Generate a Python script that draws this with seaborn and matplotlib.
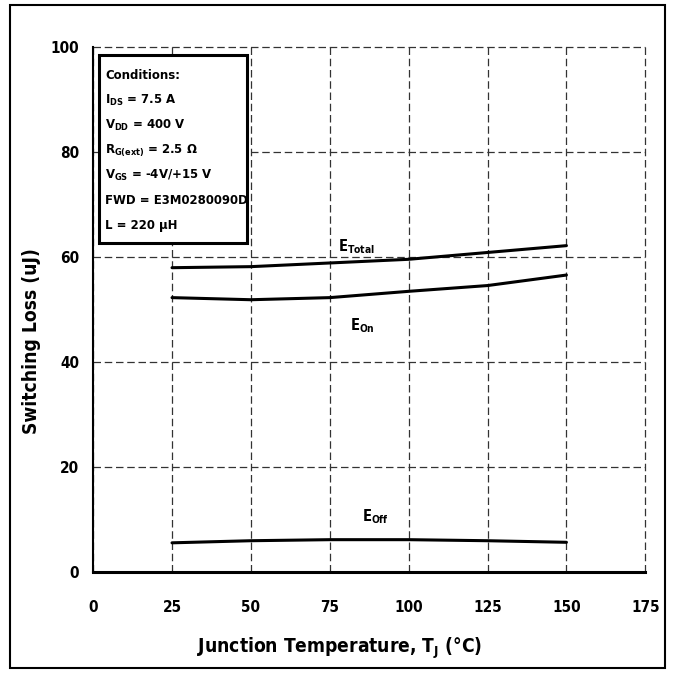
import matplotlib
matplotlib.use("Agg")
import matplotlib.pyplot as plt
from matplotlib import font_manager as fm
import seaborn as sns
import pandas as pd
from matplotlib.patches import Rectangle

temps = [25, 50, 75, 100, 125, 150]
e_total = [58.0, 58.2, 58.9, 59.6, 60.9, 62.2]
e_on = [52.3, 51.9, 52.3, 53.5, 54.6, 56.6]
e_off = [5.6, 6.0, 6.2, 6.2, 6.0, 5.7]
x_ticks = [0, 25, 50, 75, 100, 125, 150, 175]
y_ticks = [0, 20, 40, 60, 80, 100]
conditions = ["Conditions:",
              r"I$_{DS}$ = 7.5 A",
              r"V$_{DD}$ = 400 V",
              r"R$_{G(ext)}$ = 2.5 Ω",
              r"V$_{GS}$ = -4V/+15 V",
              "FWD = E3M0280090D",
              "L = 220 µH"]

sns.set_theme(style="white")

names = {f.name for f in fm.fontManager.ttflist}
cond_dejavu = any(f.name == "DejaVu Sans" and str(f.stretch) in ("condensed", "semi-condensed")
                  for f in fm.fontManager.ttflist)
if "Liberation Sans Narrow" in names:
    MAIN = "Liberation Sans Narrow"
    STRETCH = "normal"
elif cond_dejavu:
    MAIN = "DejaVu Sans"
    STRETCH = "condensed"
else:
    MAIN = "Liberation Sans"
    STRETCH = "normal"

plt.rcParams["font.family"] = [MAIN, "DejaVu Sans"]
plt.rcParams["font.stretch"] = STRETCH
plt.rcParams["font.weight"] = "bold"
plt.rcParams["mathtext.fontset"] = "custom"
plt.rcParams["mathtext.rm"] = MAIN + ":bold"
plt.rcParams["mathtext.it"] = MAIN + ":bold"
plt.rcParams["mathtext.bf"] = MAIN + ":bold"
plt.rcParams["mathtext.default"] = "rm"
for k in ["text.color", "axes.labelcolor", "xtick.color", "ytick.color"]:
    plt.rcParams[k] = "black"

df = pd.DataFrame({"T": temps * 3,
                   "E": e_total + e_on + e_off,
                   "s": ["Total"] * 6 + ["On"] * 6 + ["Off"] * 6})

fig = plt.figure(figsize=(6.75, 6.74), dpi=100)
ax = fig.add_axes([0.138, 0.151, 0.818, 0.779])

sns.lineplot(data=df, x="T", y="E", units="s", estimator=None,
             color="black", linewidth=2.2, ax=ax, legend=False)

ax.set_xlim(0, 175)
ax.set_ylim(0, 100)
ax.set_xticks(x_ticks)
ax.set_yticks(y_ticks)
ax.set_xticklabels([str(v) for v in x_ticks], fontsize=11, fontweight="bold")
ax.set_yticklabels([str(v) for v in y_ticks], fontsize=11, fontweight="bold")
ax.grid(True, linestyle=(0, (6, 3)), color="#333333", linewidth=0.9)
for gl in ax.get_xgridlines() + ax.get_ygridlines():
    gl.set_clip_on(False)
for s in ["top", "right"]:
    ax.spines[s].set_visible(False)
ax.spines["left"].set_color("black")
ax.spines["left"].set_linewidth(1.5)
ax.spines["bottom"].set_color("black")
ax.spines["bottom"].set_linewidth(2.2)
ax.spines["bottom"].set_zorder(3)
ax.tick_params(axis="y", direction="out", length=3, width=1.2, color="black", pad=7)
ax.tick_params(axis="x", length=0, pad=20)

ax.set_xlabel(r"Junction Temperature, T$_J$ (°C)", fontsize=13.8, fontweight="bold")
ax.set_ylabel("Switching Loss (uJ)", fontsize=13.8, fontweight="bold")
ax.xaxis.set_label_coords(0.447, -0.12)
ax.yaxis.set_label_coords(-0.094, 0.44)

ax.text(77.7, 62.0, r"E$_{Total}$", fontsize=10.5, va="center", ha="left")
ax.text(81.5, 46.9, r"E$_{On}$", fontsize=10.5, va="center", ha="left")
ax.text(85.3, 10.5, r"E$_{Off}$", fontsize=10.5, va="center", ha="left")

ax.add_patch(Rectangle((1.9, 62.7), 46.9, 35.8, fill=True, facecolor="white",
                       edgecolor="black", linewidth=2.2, zorder=5))
for i, line in enumerate(conditions):
    ax.text(3.8, 93.9 - i * 4.75, line, fontsize=9.4, va="baseline", ha="left", zorder=6)

fig.patches.append(Rectangle((0.015, 0.009), 0.97, 0.983, transform=fig.transFigure,
                             fill=False, edgecolor="black", linewidth=1.5))

fig.savefig("out.png", dpi=100)
